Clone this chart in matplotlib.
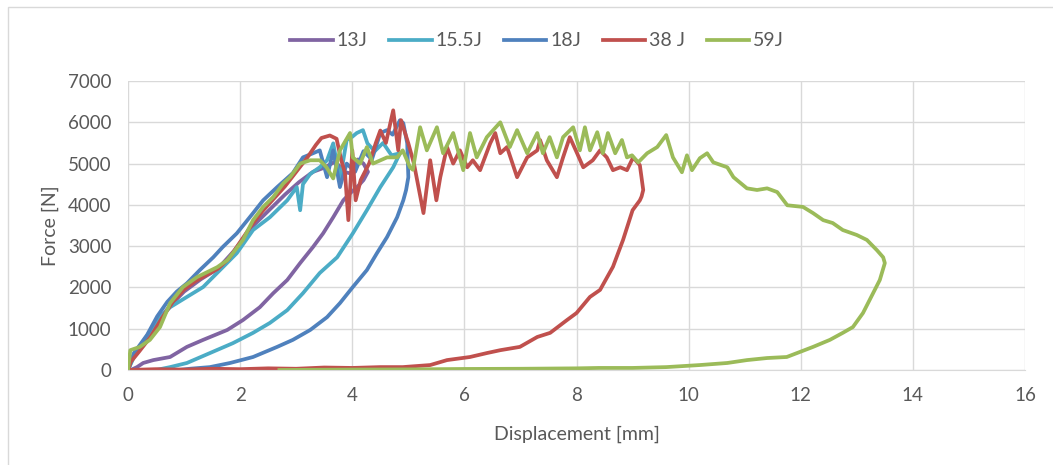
import matplotlib
matplotlib.use('Agg')
import matplotlib.pyplot as plt
from matplotlib.patches import Rectangle

# Force-displacement curves (displacement in mm, force in N)
x_13 = [0.0, 0.1, 0.3, 0.5, 0.75, 1.0, 1.3, 1.6, 1.9, 2.2, 2.5, 2.8, 3.05, 3.3, 3.5, 3.7, 3.85, 4.0, 4.1, 4.2, 4.28,
        4.2, 4.1, 3.96, 3.84, 3.66, 3.48, 3.3, 3.07, 2.84, 2.59, 2.35, 2.05, 1.77, 1.34, 1.05, 0.75, 0.45, 0.27, 0.16, 0.05]
y_13 = [0, 350, 750, 1150, 1550, 1900, 2200, 2450, 2900, 3450, 3850, 4250, 4550, 4800, 4900, 5050, 4800, 4750, 5100, 5000, 4800,
        4600, 4450, 4280, 4110, 3700, 3310, 2980, 2590, 2180, 1860, 1520, 1210, 970, 730, 560, 315, 240, 170, 70, 0]

x_155 = [0.0, 0.1, 0.27, 0.52, 0.75, 1.05, 1.34, 1.64, 1.94, 2.23, 2.53, 2.84, 3.01, 3.07, 3.12, 3.25, 3.42, 3.55, 3.66, 3.78,
         3.9, 4.0, 4.08, 4.19, 4.27, 4.4, 4.55, 4.7, 4.85,
         4.73, 4.5, 4.26, 4.01, 3.73, 3.42, 3.12, 2.84, 2.53, 2.23, 1.87, 1.46, 1.05, 0.75, 0.5]
y_155 = [0, 300, 650, 1210, 1520, 1770, 2010, 2420, 2830, 3390, 3700, 4110, 4430, 3870, 4500, 4750, 4910, 5080, 5490, 4600,
         5570, 5650, 5740, 5810, 5490, 5300, 5500, 5200, 5250,
         4910, 4430, 3870, 3310, 2730, 2350, 1860, 1450, 1140, 900, 650, 410, 170, 70, 0]

x_18 = [0.0, 0.1, 0.34, 0.52, 0.7, 0.87, 1.05, 1.28, 1.52, 1.69, 1.94, 2.23, 2.41, 2.66, 2.94, 3.12, 3.3, 3.42, 3.55, 3.66,
        3.78, 3.9, 4.05, 4.2, 4.35, 4.5, 4.62, 4.72, 4.85, 4.91, 4.98, 5.0, 4.96,
        4.91, 4.8, 4.62, 4.44, 4.26, 4.01, 3.78, 3.55, 3.25, 2.94, 2.66, 2.23, 1.82, 1.46, 1.1, 0.9]
y_18 = [0, 400, 850, 1300, 1650, 1900, 2100, 2420, 2730, 2980, 3310, 3800, 4110, 4430, 4770, 5150, 5250, 5320, 4670, 5320,
        4430, 5000, 4800, 5300, 5100, 5740, 5810, 5700, 6050, 5980, 5490, 4670, 4360,
        4110, 3700, 3220, 2830, 2420, 2010, 1620, 1280, 970, 730, 560, 315, 170, 70, 30, 0]

x_38 = [0.0, 0.05, 0.2, 0.4, 0.6, 0.8, 1.0, 1.2, 1.4, 1.6, 1.8, 2.0, 2.2, 2.4, 2.6, 2.8, 3.0, 3.2, 3.35, 3.45, 3.6, 3.72,
        3.8, 3.87, 3.93, 4.0, 4.06, 4.15, 4.3, 4.42, 4.5, 4.6, 4.73, 4.82, 4.87, 5.0, 5.1, 5.27, 5.39, 5.5, 5.57,
        5.69, 5.8, 5.92, 6.05, 6.15, 6.28, 6.46, 6.55, 6.64, 6.76, 6.94, 7.12, 7.3, 7.35, 7.47, 7.65, 7.76, 7.88,
        8.01, 8.12, 8.29, 8.42, 8.54, 8.65, 8.78, 8.9, 9.01, 9.13, 9.19, 9.16,
        9.13, 9.0, 8.83, 8.65, 8.42, 8.24, 8.0, 7.83, 7.53, 7.3, 6.99, 6.64, 6.4, 6.1, 5.69, 5.39, 4.9, 4.5,
        4.0, 3.5, 3.0, 2.5, 2.0, 1.5, 1.0, 0.5, 0.0]
y_38 = [0, 200, 450, 800, 1250, 1650, 1950, 2150, 2300, 2450, 2700, 3100, 3500, 3850, 4150, 4450, 4800, 5150, 5450, 5620, 5680, 5600,
        5100, 4770, 3630, 5320, 4110, 4600, 5000, 5500, 5800, 5500, 6290, 5320, 6050, 5490, 5000, 3800, 5080, 4110, 4670,
        5400, 5000, 5320, 4910, 5080, 4840, 5490, 5740, 5250, 5400, 4670, 5150, 5320, 5570, 5080, 4670, 5150, 5640,
        5250, 4910, 5080, 5320, 5150, 4840, 4910, 4840, 5150, 4960, 4360, 4200,
        4110, 3870, 3150, 2500, 1940, 1770, 1380, 1210, 900, 800, 560, 480, 410, 315, 240, 120, 70, 70,
        50, 60, 30, 40, 20, 30, 10, 20, 0]

x_59 = [0.0, 0.04, 0.21, 0.39, 0.57, 0.75, 0.98, 1.23, 1.41, 1.59, 1.77, 1.87, 2.05, 2.23, 2.41, 2.59, 2.77, 2.89, 3.07, 3.25,
        3.42, 3.54, 3.66, 3.78, 3.96, 4.01, 4.14, 4.26, 4.37, 4.62, 4.8, 4.9, 5.03, 5.08, 5.21, 5.33, 5.51, 5.62, 5.8,
        5.98, 6.1, 6.22, 6.4, 6.64, 6.81, 6.94, 7.12, 7.3, 7.4, 7.52, 7.65, 7.76, 7.94, 8.06, 8.15, 8.24, 8.37, 8.47,
        8.56, 8.69, 8.81, 8.9, 8.99, 9.1, 9.26, 9.44, 9.6, 9.72, 9.88, 9.97, 10.06, 10.2, 10.33, 10.44, 10.69, 10.8,
        11.04, 11.22, 11.4, 11.58, 11.76, 12.04, 12.22, 12.4, 12.57, 12.75, 13.0, 13.18, 13.36, 13.47, 13.5,
        13.41, 13.29, 13.11, 12.93, 12.75, 12.52, 12.22, 11.99, 11.75, 11.4, 11.04, 10.69, 10.2, 9.6, 9.0, 8.4,
        8.0, 7.0, 6.0, 5.0, 4.0, 2.7]
y_59 = [0, 480, 560, 730, 1040, 1620, 2010, 2250, 2370, 2490, 2660, 2830, 3150, 3630, 3950, 4190, 4520, 4670, 5000, 5080,
        5080, 4910, 4640, 5320, 5740, 5150, 5000, 5400, 5000, 5150, 5150, 5320, 4910, 4850, 5880, 5320, 5880, 5250, 5740,
        4840, 5740, 5150, 5640, 6000, 5400, 5810, 5250, 5740, 5250, 5640, 5150, 5640, 5880, 5320, 5880, 5320, 5760, 5250,
        5740, 5250, 5570, 5150, 5200, 5030, 5250, 5400, 5690, 5150, 4790, 5200, 4840, 5130, 5250, 5030, 4910, 4670,
        4400, 4360, 4400, 4310, 3990, 3950, 3800, 3630, 3560, 3390, 3270, 3150, 2900, 2730, 2590,
        2180, 1860, 1380, 1040, 900, 730, 560, 440, 315, 290, 240, 170, 120, 70, 50, 50,
        40, 30, 25, 15, 10, 0]

series = [
    ('13J', x_13, y_13, '#8064A2'),
    ('15.5J', x_155, y_155, '#4BACC6'),
    ('18J', x_18, y_18, '#4F81BD'),
    ('38 J', x_38, y_38, '#C0504D'),
    ('59J', x_59, y_59, '#9BBB59'),
]

x_ticks = [0, 2, 4, 6, 8, 10, 12, 14, 16]
y_ticks = [0, 1000, 2000, 3000, 4000, 5000, 6000, 7000]

plt.rcParams['font.family'] = ['Lato', 'DejaVu Sans']

fig = plt.figure(figsize=(10.53, 4.65), dpi=100)
ax = fig.add_axes([0.1216, 0.2043, 0.8518, 0.6215])

for label, xs, ys, color in series:
    ax.plot(xs, ys, color=color, lw=2.7, label=label, solid_joinstyle='round')

ax.set_xlim(0, 16)
ax.set_ylim(0, 7000)
ax.set_xticks(x_ticks)
ax.set_yticks(y_ticks)
ax.grid(True, color='#D9D9D9', lw=1)
ax.set_axisbelow(True)
for side in ['top', 'right', 'left']:
    ax.spines[side].set_visible(False)
ax.spines['bottom'].set_color('#D9D9D9')
ax.tick_params(length=0, labelsize=13.5, colors='#595959', pad=12)

ax.set_xlabel('Displacement [mm]', fontsize=14, color='#595959', labelpad=16)
ax.set_ylabel('Force [N]', fontsize=14, color='#595959', labelpad=6)

fig.legend(loc='center', bbox_to_anchor=(0.51, 0.912), ncol=5, frameon=False,
           fontsize=14, labelcolor='#595959', handlelength=2.2, columnspacing=1.1, handletextpad=0.2)

# outer chart frame (only left and top edges are visible in the crop)
fig.patches.append(Rectangle((8 / 1053, -0.05), 1.1, 1 - 7 / 465 + 0.05, transform=fig.transFigure,
                             fill=False, edgecolor='#D9D9D9', lw=1))

fig.savefig('out.png', dpi=100)
